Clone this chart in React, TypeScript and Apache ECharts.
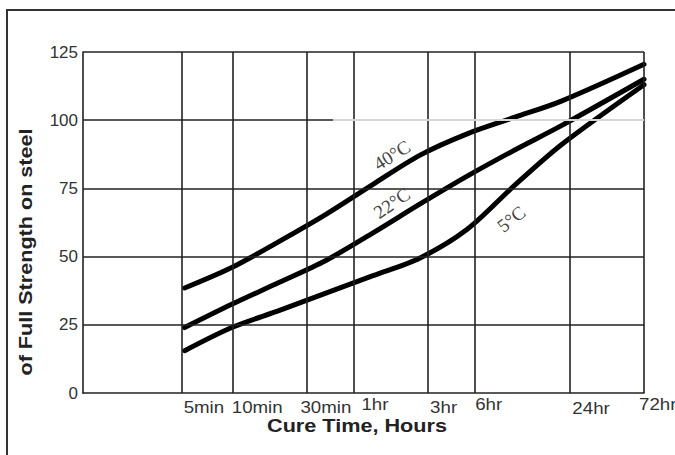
import React, { useEffect, useRef } from "react";
import * as echarts from "echarts";

// X axis: cure time in hours (log scale), tick labels
const xTickHours = [5 / 60, 10 / 60, 0.5, 1, 3, 6, 24, 72];
const xTickLabels = ["5min", "10min", "30min", "1hr", "3hr", "6hr", "24hr", "72hr"];
// Y axis ticks
const yTicks = [0, 25, 50, 75, 100, 125];
// Curves: % of full strength on steel, sampled at cure times (minutes)
const curveMinutes = [5, 10, 20, 40, 80, 160, 320, 640, 1280, 4320];
const c40 = [38.5, 46, 55.5, 65.5, 76.5, 87.2, 95, 101, 107, 120.5];
const c22 = [24, 32.5, 40.5, 48.6, 58.7, 69.3, 79.5, 89, 98, 115];
const c5 = [15.5, 24, 30.2, 36.6, 43, 49.5, 60, 76, 91, 113];
const curveNames = ["40°C", "22°C", "5°C"];

export default function App() {
  const ref = useRef<HTMLDivElement>(null);
  useEffect(() => {
    document.body.style.margin = "0";
    const chart = echarts.init(ref.current!, null, { renderer: "svg" });
    const xMin = 0.01866;
    const xMax = 72;
    const dark = "#222";
    const font = "'Liberation Sans', Arial, sans-serif";
    const gridStyle = { color: dark, width: 1.6, type: "solid" as const };
    const vLines = xTickHours.map((h) => ({ xAxis: h, lineStyle: gridStyle }));
    const hLines = [25, 50, 75, 125].map((v) => ({ yAxis: v, lineStyle: gridStyle }));
    const split100 = 0.74;
    const light = { color: "#d6d6d6", width: 2, type: "solid" as const };
    const line100: any[] = [
      [
        { coord: [xMin, 100], lineStyle: gridStyle },
        { coord: [split100, 100], lineStyle: gridStyle },
      ],
      [
        { coord: [split100, 100], lineStyle: light },
        { coord: [xMax, 100], lineStyle: light },
      ],
    ];
    const curves = [c40, c22, c5];
    chart.setOption({
      animation: false,
      grid: { left: 83, top: 52, right: 31, bottom: 62 },
      xAxis: {
        type: "log",
        logBase: 10,
        min: xMin,
        max: xMax,
        axisLine: { show: true, lineStyle: { color: dark, width: 1.6 } },
        axisTick: { show: false },
        axisLabel: { show: false },
        splitLine: { show: false },
        minorSplitLine: { show: false },
      },
      yAxis: {
        type: "value",
        min: yTicks[0],
        max: yTicks[yTicks.length - 1],
        interval: 25,
        axisLine: { show: true, lineStyle: { color: dark, width: 1.6 } },
        axisTick: { show: false },
        splitLine: { show: false },
        axisLabel: { color: "#333", fontSize: 17, fontFamily: font, margin: 5 },
      },
      series: [
        {
          type: "line",
          data: [],
          z: 1,
          silent: true,
          markLine: {
            silent: true,
            symbol: ["none", "none"],
            label: { show: false },
            data: [...vLines, ...hLines, ...line100],
          },
        },
        ...curves.map((c, k) => ({
          type: "line",
          name: curveNames[k],
          data: curveMinutes.map((m, i) => [m / 60, c[i]]),
          smooth: 0.3,
          symbol: "none",
          z: 3,
          lineStyle: { color: "#000", width: 5, cap: "round" },
        })),
      ],
    });

    const px = (h: number, v: number) => chart.convertToPixel({ gridIndex: 0 }, [h, v]) as number[];
    // tick label styling (small offsets as in the reference)
    const tickStyle = [
      { dx: -1, dy: 14 },
      { dx: 0, dy: 14 },
      { dx: -6, dy: 14 },
      { dx: 8, dy: 11 },
      { dx: 2, dy: 14 },
      { dx: 0, dy: 11 },
      { dx: 3, dy: 15 },
      { dx: -5, dy: 11 },
    ];
    const tickTexts = xTickHours.map((h, i) => {
      const p = px(h, 0);
      const s = tickStyle[i];
      return {
        type: "text",
        x: p[0] + s.dx,
        y: p[1] + s.dy,
        scaleX: 1.1,
        style: {
          text: xTickLabels[i],
          fill: "#333",
          font: `17px ${font}`,
          align: "left",
          verticalAlign: "middle",
        },
      };
    });
    const labelPos = [
      { h: 1.76, v: 87.2, rot: 0.56 },
      { h: 1.76, v: 69.6, rot: 0.6 },
      { h: 10.2, v: 63.8, rot: 0.66 },
    ];
    const curveLabels = labelPos.map((l, k) => {
      const p = px(l.h, l.v);
      return {
        type: "text",
        x: p[0],
        y: p[1],
        rotation: l.rot,
        z: 5,
        style: {
          text: curveNames[k],
          fill: "#444",
          font: `19px 'Liberation Serif', 'DejaVu Serif', serif`,
          align: "center",
          verticalAlign: "middle",
        },
      };
    });
    chart.setOption({
      graphic: [
        {
          type: "rect",
          shape: { x: 7, y: 10, width: 720, height: 500 },
          style: { fill: "none", stroke: "#333", lineWidth: 2 },
          silent: true,
        },
        ...tickTexts,
        ...curveLabels,
        {
          type: "text",
          x: 357,
          y: 425,
          scaleX: 1.14,
          style: {
            text: "Cure Time, Hours",
            fill: "#222",
            font: `bold 19px ${font}`,
            align: "center",
            verticalAlign: "middle",
          },
        },
        {
          type: "text",
          x: 26,
          y: 252,
          rotation: Math.PI / 2,
          scaleX: 1.2,
          style: {
            text: "of Full Strength on steel",
            fill: "#222",
            font: `bold 18px ${font}`,
            align: "center",
            verticalAlign: "middle",
          },
        },
      ],
    });
    return () => chart.dispose();
  }, []);
  return <div ref={ref} style={{ width: 675, height: 455 }} />;
}
